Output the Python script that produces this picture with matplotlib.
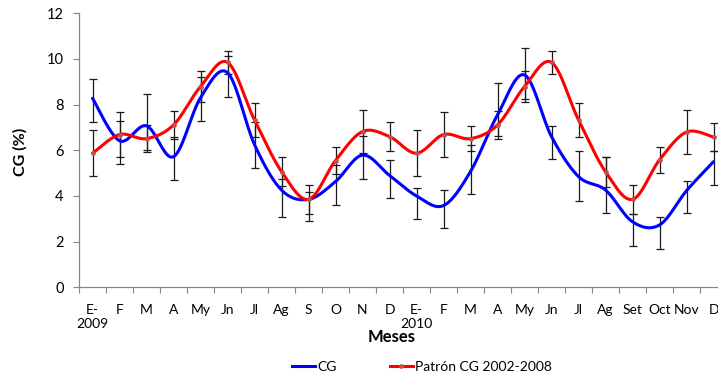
import numpy as np
import matplotlib
matplotlib.use("Agg")
import matplotlib.pyplot as plt
from matplotlib.lines import Line2D

plt.rcParams['font.family'] = ['Lato', 'DejaVu Sans']

# ---- data ----
months = ['E-\n2009', 'F', 'M', 'A', 'My', 'Jn', 'Jl', 'Ag', 'S', 'O', 'N', 'D',
          'E-\n2010', 'F', 'M', 'A', 'My', 'Jn', 'Jl', 'Ag', 'Set', 'Oct', 'Nov', 'D']

cg = [8.28, 6.42, 7.07, 5.72, 8.30, 9.40, 6.25, 4.26, 3.85, 4.63, 5.79, 4.90,
      4.00, 3.58, 5.07, 7.55, 9.30, 6.60, 4.85, 4.26, 2.87, 2.73, 4.23, 5.50]
cg_err_hi = [0.83, 0.86, 1.40, 0.85, 0.90, 0.73, 0.98, 0.50, 0.34, 0.74, 0.85, 0.67,
             0.34, 0.67, 1.15, 1.39, 1.18, 0.48, 1.13, 1.44, 0.34, 0.35, 0.44, 0.47]
cg_err_lo = [1.03, 1.02, 1.04, 1.02, 1.02, 1.08, 1.01, 1.18, 0.95, 1.01, 1.03, 1.01,
             1.02, 1.00, 0.98, 0.92, 1.07, 0.98, 1.06, 1.02, 1.06, 1.05, 0.99, 1.02]

patron = [5.87, 6.69, 6.51, 7.11, 8.79, 9.85, 7.33, 5.07, 3.85, 5.55, 6.82, 6.60,
          5.87, 6.69, 6.51, 7.11, 8.79, 9.85, 7.33, 5.06, 3.85, 5.58, 6.80, 6.58]
patron_err = [1.00, 0.97, 0.60, 0.63, 0.68, 0.51, 0.73, 0.65, 0.62, 0.58, 0.93, 0.62,
              1.00, 0.97, 0.56, 0.63, 0.68, 0.50, 0.73, 0.65, 0.62, 0.57, 0.97, 0.63]

yticks = [0, 2, 4, 6, 8, 10, 12]


def smooth(xs, ys, n=30):
    """Excel-like smoothed line (Catmull-Rom Bezier through the points)."""
    xs = np.asarray(xs, float)
    ys = np.asarray(ys, float)
    P = np.column_stack([xs, ys])
    out = []
    m = len(P)
    for i in range(m - 1):
        p0 = P[i - 1] if i > 0 else P[i]
        p1 = P[i]
        p2 = P[i + 1]
        p3 = P[i + 2] if i + 2 < m else P[i + 1]
        c1 = p1 + (p2 - p0) / 6.0
        c2 = p2 - (p3 - p1) / 6.0
        t = np.linspace(0, 1, n)[:, None]
        seg = ((1 - t) ** 3) * p1 + 3 * ((1 - t) ** 2) * t * c1 + 3 * (1 - t) * t ** 2 * c2 + t ** 3 * p2
        if i > 0:
            seg = seg[1:]
        out.append(seg)
    out = np.vstack(out)
    return out[:, 0], out[:, 1]


W, H = 718, 375
fig = plt.figure(figsize=(W / 100, H / 100), dpi=100)
ax = fig.add_axes([79 / W, 87.7 / H, 648 / W, 274 / H])

x = np.arange(len(months))

ax.errorbar(x, cg, yerr=[cg_err_lo, cg_err_hi], fmt='none', ecolor='#1a1a1a',
            elinewidth=0.9, capsize=2.6, capthick=0.9, zorder=2)
ax.errorbar(x, patron, yerr=[patron_err, patron_err], fmt='none', ecolor='#1a1a1a',
            elinewidth=0.9, capsize=2.6, capthick=0.9, zorder=2)

sx, sy = smooth(x, cg)
ax.plot(sx, sy, color='#0000ff', lw=2.2, zorder=3, solid_capstyle='round')
rx, ry = smooth(x, patron)
ax.plot(rx, ry, color='#ff0000', lw=2.2, zorder=4, solid_capstyle='round')
ax.plot(x, patron, linestyle='none', marker='o', markersize=2.4,
        markerfacecolor='#c05050', markeredgecolor='#c05050', zorder=5)

# legend proxies
h1 = Line2D([], [], color='#0000ff', lw=2.2)
h2 = Line2D([], [], color='#ff0000', lw=2.2, marker='o', markersize=2.4,
            markerfacecolor='#c05050', markeredgecolor='#c05050')
fig.legend([h1, h2], ['CG', 'Patrón CG 2002-2008'], loc='center',
           bbox_to_anchor=(422 / W, 1 - 367 / H), ncol=2, frameon=False,
           fontsize=10, handlelength=1.7, handletextpad=0.15, columnspacing=3.8)

ax.set_xlim(-0.5, len(months) - 0.5)
ax.set_ylim(0, 12)
ax.set_yticks(yticks)
ax.set_yticklabels([str(v) for v in yticks], fontsize=10.5)

ax.set_xticks(np.arange(-0.5, len(months), 1.0))
ax.set_xticklabels([])
ax.set_xticks(x, minor=True)
ax.set_xticklabels(months, minor=True, fontsize=10)
ax.tick_params(axis='x', which='minor', length=0, pad=12)
ax.tick_params(axis='x', which='major', length=4, color='#868686', width=0.8)
ax.tick_params(axis='y', length=4, color='#868686', width=0.8, pad=7)

for s in ['top', 'right']:
    ax.spines[s].set_visible(False)
for s in ['left', 'bottom']:
    ax.spines[s].set_color('#868686')
    ax.spines[s].set_linewidth(0.9)

fig.text(20 / W, 1 - 152 / H, 'CG (%)', rotation=90, ha='center', va='center',
         fontsize=11.5, fontweight='bold')
fig.text(392 / W, 1 - 337 / H, 'Meses', ha='center', va='center',
         fontsize=12, fontweight='bold')

fig.savefig('out.png', dpi=100)
